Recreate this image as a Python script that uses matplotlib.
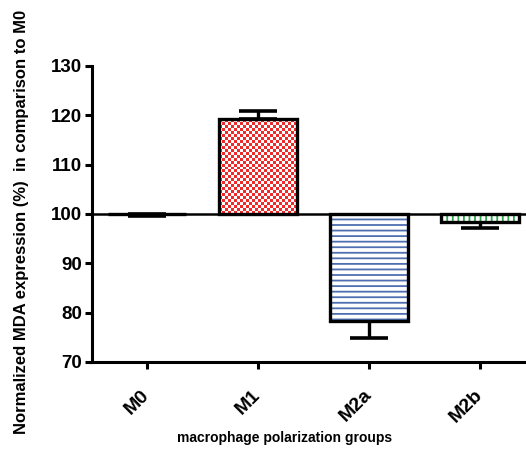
import numpy as np
import matplotlib
matplotlib.use("Agg")
import matplotlib.pyplot as plt

groups = ["M0", "M1", "M2a", "M2b"]
means = [100.0, 119.2, 78.4, 98.4]
errors = [0.4, 1.7, 3.5, 1.2]
baseline = 100.0
y_ticks = [70, 80, 90, 100, 110, 120, 130]

plt.rcParams["font.family"] = ["Liberation Sans", "DejaVu Sans"]
plt.rcParams["font.weight"] = "bold"
plt.rcParams["hatch.linewidth"] = 1.3

fig = plt.figure(figsize=(5.26, 4.5), dpi=100)
ax = fig.add_axes([92 / 526, 88 / 450, 434 / 526, 296 / 450])

x = np.arange(len(groups))
width = 0.7
heights = [m - baseline for m in means]

# fill styles for each group: (kind, colour)
fills = [("none", "white"), ("checker", "#EE2B2B"), ("hatch-", "#4F6FB0"), ("hatch|", "#2EA84A")]

for xi, h, (kind, col) in zip(x, heights, fills):
    if kind == "checker":
        b = ax.bar(xi, h, width, bottom=baseline, color="white", linewidth=0, zorder=2)[0]
        x0, y0, w, hh = b.get_x(), b.get_y(), b.get_width(), b.get_height()
        nx, ny = 26, int(round(abs(hh) / 0.6))
        board = (np.add.outer(np.arange(ny), np.arange(nx)) % 2).astype(float)
        cmap = matplotlib.colors.ListedColormap(["white", col])
        im = ax.imshow(board, cmap=cmap, extent=[x0, x0 + w, y0, y0 + hh],
                       aspect="auto", interpolation="nearest", zorder=2.5, origin="lower")
        im.set_clip_path(b)
    elif kind.startswith("hatch"):
        pattern = "---" if kind.endswith("-") else "|||"
        ax.bar(xi, h, width, bottom=baseline, facecolor="white", edgecolor=col,
               hatch=pattern, linewidth=0, zorder=2)
    ax.bar(xi, h, width, bottom=baseline, fill=False, edgecolor="black",
           linewidth=2.4, zorder=3)

# one-sided error bars pointing away from the baseline
lower = [e if m <= baseline else 0 for m, e in zip(means, errors)]
upper = [e if m > baseline else 0 for m, e in zip(means, errors)]
ax.errorbar(x, means, yerr=[lower, upper], fmt="none", ecolor="black",
            elinewidth=2.4, capsize=14, capthick=2.6, zorder=1.5)

ax.axhline(baseline, color="black", linewidth=1.8, zorder=4)

ax.set_xlim(-0.495, 3.414)
ax.set_ylim(70, 130)
ax.set_yticks(y_ticks)
ax.set_yticklabels([str(t) for t in y_ticks], fontsize=13.5, fontweight="bold")
ax.set_xticks(x)
ax.set_xticklabels(groups, rotation=45, ha="right", va="center",
                   rotation_mode="anchor", fontsize=14, fontweight="bold")

for side in ["top", "right"]:
    ax.spines[side].set_visible(False)
for side in ["left", "bottom"]:
    ax.spines[side].set_linewidth(2.2)
ax.tick_params(axis="both", width=2.2, length=5, pad=2)
ax.tick_params(axis="x", pad=17)

fig.text(285 / 526, 1 - 438 / 450, "macrophage polarization groups",
         ha="center", va="center", fontsize=10, fontweight="bold")
fig.text(22 / 526, 1 - 222 / 450, "Normalized MDA expression (%)  in comparison to M0",
         ha="center", va="center", rotation=90, fontsize=12, fontweight="bold")

fig.savefig("out.png", dpi=100)
